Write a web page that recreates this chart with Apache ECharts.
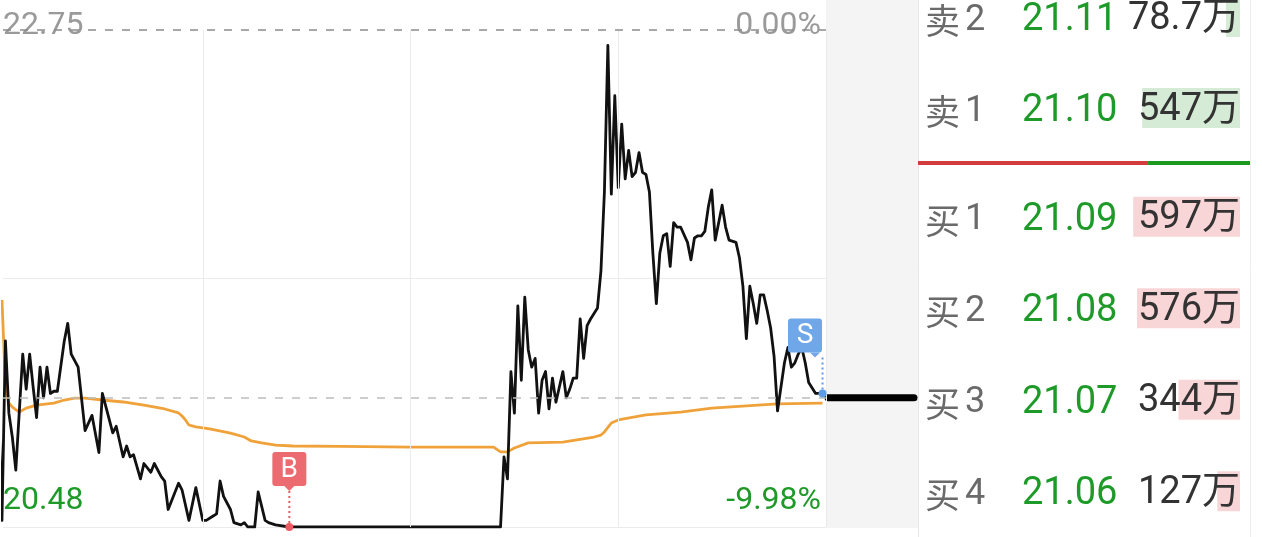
<!DOCTYPE html>
<html>
<head>
<meta charset="utf-8">
<style>
  html, body { margin: 0; padding: 0; background: #fff; }
  #chart { width: 1262px; height: 537px; }
</style>
<script src="https://cdn.jsdelivr.net/npm/echarts@6/dist/echarts.min.js"></script>
</head>
<body>
<div id="chart"></div>
<script>
// price levels
const prevClose = 22.75
const lowLimit = 20.48
const lastLine = 21.07

// the screenshot starts a little after 9:30, so the visible axis begins at minute 2.3
const firstMinute = 2.3
const lastMinute = 240
const sessionMarks = [60, 120, 180, 240]

// intraday minute line (minute index from 9:30, price)
const minutes = [1, 2, 3, 4, 5, 6, 8, 9, 10, 11, 12, 13, 14, 15, 16, 17, 18, 20, 21, 22, 24, 26, 28, 30, 31, 33, 34, 35, 37, 38, 39, 40, 42, 43, 45, 46, 48, 49, 50, 53, 54, 56, 58, 60, 61, 63, 64, 65, 66, 68, 69, 71, 72, 73, 75, 76, 78, 79, 81, 85, 146, 147, 148, 149, 150, 151, 152, 153, 154, 155, 156, 157, 158, 159, 160, 161, 162, 164, 165, 166, 167, 168, 169, 170, 171, 172, 174, 175, 176, 177, 178, 179, 180, 181, 182, 183, 184, 185, 186, 187, 188, 189, 190, 191, 192, 193, 194, 195, 196, 197, 198, 200, 201, 202, 203, 204, 205, 206, 207, 208, 210, 211, 212, 214, 215, 216, 217, 218, 219, 220, 221, 222, 223, 224, 225, 226, 228, 229, 230, 231, 232, 233, 234, 235, 237, 238, 239]
const prices = [21.05, 20.51, 21.33, 21.00, 20.89, 20.74, 21.27, 21.11, 21.27, 21.12, 20.98, 21.21, 21.07, 21.21, 21.09, 21.10, 21.10, 21.33, 21.41, 21.27, 21.21, 20.92, 20.99, 20.82, 21.09, 20.97, 20.91, 20.94, 20.80, 20.85, 20.80, 20.81, 20.70, 20.77, 20.73, 20.77, 20.71, 20.69, 20.56, 20.68, 20.65, 20.51, 20.66, 20.51, 20.51, 20.53, 20.54, 20.69, 20.62, 20.56, 20.50, 20.49, 20.50, 20.48, 20.48, 20.64, 20.51, 20.50, 20.49, 20.48, 20.48, 20.80, 20.70, 21.19, 21.00, 21.49, 21.15, 21.53, 21.29, 21.21, 21.25, 21.00, 21.15, 21.19, 21.02, 21.16, 21.05, 21.19, 21.07, 21.11, 21.16, 21.16, 21.43, 21.25, 21.40, 21.43, 21.48, 21.65, 22.01, 22.68, 22.00, 22.45, 22.03, 22.32, 22.07, 22.20, 22.08, 22.10, 22.19, 22.10, 22.09, 22.01, 21.73, 21.50, 21.73, 21.81, 21.82, 21.67, 21.87, 21.85, 21.85, 21.78, 21.70, 21.80, 21.81, 21.81, 21.83, 21.94, 22.02, 21.79, 21.95, 21.85, 21.79, 21.78, 21.71, 21.58, 21.34, 21.58, 21.50, 21.41, 21.54, 21.54, 21.47, 21.39, 21.26, 21.01, 21.23, 21.30, 21.21, 21.23, 21.27, 21.30, 21.23, 21.14, 21.09, 21.09, 21.09]

// average price line
const avgMinutes = [2, 3, 4, 5, 7, 9, 12, 17, 20, 23, 26, 31, 37, 43, 49, 53, 54, 55, 56, 58, 62, 68, 72, 74, 77, 81, 86, 100, 120, 144, 146, 148, 150, 154, 164, 173, 175, 176, 178, 180, 188, 198, 207, 217, 226, 239]
const avgPrices = [21.517, 21.129, 21.046, 21.028, 21.005, 21.023, 21.037, 21.046, 21.060, 21.069, 21.069, 21.060, 21.051, 21.037, 21.019, 21.001, 20.987, 20.969, 20.946, 20.937, 20.928, 20.909, 20.891, 20.873, 20.864, 20.854, 20.850, 20.848, 20.845, 20.845, 20.823, 20.823, 20.841, 20.864, 20.868, 20.891, 20.900, 20.914, 20.955, 20.969, 20.992, 21.005, 21.023, 21.033, 21.042, 21.046]

// buy / sell points
const tradeMinutes = [85, 239]
const tradePrices = [20.48, 21.09]
const tradeSides = ['B', 'S']

// order book
const sellNames = ['卖2', '卖1']
const sellPrices = [21.11, 21.10]
const sellVols = [78.7, 547]
const buyNames = ['买1', '买2', '买3', '买4']
const buyPrices = [21.09, 21.08, 21.07, 21.06]
const buyVols = [597, 576, 344, 127]
const bookShare = [69.3, 30.7]

const numFont = 'Roboto, "Noto Sans CJK SC", sans-serif'
const cjkFont = '"Noto Sans CJK SC", sans-serif'
const green = '#1e9a28'

const chart = echarts.init(document.getElementById('chart'))

function near(a, b) {
  return Math.abs(a - b) < 0.001
}

function bookAxis(gridIndex, names, pricesList, gap) {
  return {
    type: 'category',
    gridIndex: gridIndex,
    data: names,
    inverse: true,
    boundaryGap: gap,
    axisLine: { show: false },
    axisTick: { show: false },
    splitLine: { show: false },
    axisLabel: {
      inside: true,
      margin: 7,
      formatter: (v, i) => '{n|' + v.charAt(0) + '}{d|' + v.slice(1) + '}{p|' + pricesList[i].toFixed(2) + '}',
      rich: {
        n: { fontSize: 35, color: '#6a6a6a', width: 40, fontFamily: cjkFont, padding: [7, 0, 0, 0] },
        d: { fontSize: 36, color: '#6a6a6a', width: 57, fontFamily: numFont, padding: [7, 0, 0, 0] },
        p: { fontSize: 38, color: green, fontFamily: numFont, padding: [7, 0, 0, 0] }
      }
    }
  }
}

function bookBars(axisIndex, vols, color) {
  return {
    type: 'bar',
    xAxisIndex: axisIndex,
    yAxisIndex: axisIndex + 1,
    data: vols,
    barWidth: 40,
    silent: true,
    itemStyle: { color: color },
    label: {
      show: true,
      position: 'insideRight',
      distance: 0,
      offset: [0, 2],
      formatter: '{c}万',
      color: '#333',
      fontSize: 38,
      fontFamily: numFont
    }
  }
}

function renderTrade(params, api) {
  const pt = api.coord([api.value(0), api.value(1)])
  const cs = params.coordSys
  const side = tradeSides[params.dataIndex]
  const isBuy = side === 'B'
  const boxColor = isBuy ? '#ec6b71' : '#6fa7e8'
  const dotColor = isBuy ? '#ef5b65' : '#5d9ce4'
  const size = 34
  const boxBottom = pt[1] - 41
  const boxLeft = Math.min(pt[0] - size / 2, cs.x + cs.width - size - 4)
  const tipX = Math.min(Math.max(pt[0], boxLeft + 7), boxLeft + size - 7)
  return {
    type: 'group',
    children: [
      {
        type: 'line',
        shape: { x1: pt[0], y1: boxBottom + 5, x2: pt[0], y2: pt[1] },
        style: { stroke: dotColor, lineWidth: 2, lineDash: [2, 3] }
      },
      {
        type: 'rect',
        shape: { x: boxLeft, y: boxBottom - size, width: size, height: size, r: 3 },
        style: { fill: boxColor }
      },
      {
        type: 'polygon',
        shape: { points: [[tipX - 5, boxBottom], [tipX + 5, boxBottom], [tipX, boxBottom + 5]] },
        style: { fill: boxColor }
      },
      {
        type: 'circle',
        shape: { cx: pt[0], cy: pt[1], r: 4 },
        style: { fill: dotColor }
      },
      {
        type: 'text',
        x: boxLeft + size / 2,
        y: boxBottom - size / 2 + 1,
        style: { text: side, fill: '#fff', fontSize: 28, fontFamily: numFont, align: 'center', verticalAlign: 'middle' }
      }
    ]
  }
}

chart.setOption({
  animation: false,
  backgroundColor: '#fff',
  graphic: [
    { type: 'rect', z: 0, shape: { x: 826, y: 0, width: 92, height: 528 }, style: { fill: '#f4f4f4' } },
    { type: 'line', z: 0, shape: { x1: 918.5, y1: 0, x2: 918.5, y2: 537 }, style: { stroke: '#e6e6e6', lineWidth: 1 } },
    { type: 'line', z: 0, shape: { x1: 1250.5, y1: 0, x2: 1250.5, y2: 537 }, style: { stroke: '#ececec', lineWidth: 1 } }
  ],
  grid: [
    { left: 0, right: 436, top: 30, bottom: 10 },
    { left: 828, width: 86, top: 30, bottom: 10 },
    { left: 918, right: 22, top: 17, height: 91 },
    { left: 918, right: 22, top: 171, height: 368 },
    { left: 918, width: 332, top: 161, height: 4 }
  ],
  xAxis: [
    {
      type: 'value', gridIndex: 0, min: firstMinute, max: lastMinute,
      axisLine: { show: false }, axisTick: { show: false }, axisLabel: { show: false },
      splitLine: { show: false }
    },
    { type: 'value', gridIndex: 1, min: 0, max: 1, show: false },
    { type: 'value', gridIndex: 2, min: 0, max: 1800, inverse: true, show: false },
    { type: 'value', gridIndex: 3, min: 0, max: 1800, inverse: true, show: false },
    { type: 'value', gridIndex: 4, min: 0, max: 100, show: false }
  ],
  yAxis: [
    {
      type: 'value', gridIndex: 0, position: 'left', min: lowLimit, max: prevClose,
      interval: (prevClose - lowLimit) / 2,
      axisLine: { show: false }, axisTick: { show: false },
      splitLine: { show: true, showMaxLine: false, lineStyle: { color: '#ebebeb', width: 1 } },
      axisLabel: {
        inside: true,
        margin: 0,
        verticalAlignMinLabel: 'bottom',
        verticalAlignMaxLabel: 'middle',
        formatter: v => near(v, prevClose) ? '{hi|' + prevClose.toFixed(2) + '}' : near(v, lowLimit) ? '{lo|' + lowLimit.toFixed(2) + '}' : '',
        rich: {
          hi: { color: '#9a9a9a', fontSize: 32, fontFamily: numFont, padding: [0, 0, 8, 0] },
          lo: { color: green, fontSize: 32, fontFamily: numFont, padding: [0, 0, 10, 0] }
        }
      }
    },
    {
      type: 'value', gridIndex: 0, position: 'right', min: lowLimit, max: prevClose,
      interval: (prevClose - lowLimit) / 2,
      axisLine: { show: false }, axisTick: { show: false }, splitLine: { show: false },
      axisLabel: {
        inside: true,
        margin: 5,
        verticalAlignMinLabel: 'bottom',
        verticalAlignMaxLabel: 'middle',
        formatter: v => {
          const pct = ((v - prevClose) / prevClose * 100).toFixed(2) + '%'
          if (near(v, prevClose)) return '{hi|' + pct + '}'
          if (near(v, lowLimit)) return '{lo|' + pct + '}'
          return ''
        },
        rich: {
          hi: { color: '#9a9a9a', fontSize: 32, fontFamily: numFont, padding: [0, 0, 8, 0] },
          lo: { color: green, fontSize: 32, fontFamily: numFont, padding: [0, 0, 10, 0] }
        }
      }
    },
    { type: 'value', gridIndex: 1, min: lowLimit, max: prevClose, show: false },
    bookAxis(2, sellNames, sellPrices, false),
    bookAxis(3, buyNames, buyPrices, true),
    { type: 'category', gridIndex: 4, data: ['盘口'], show: false }
  ],
  series: [
    {
      name: '均价',
      type: 'line',
      xAxisIndex: 0,
      yAxisIndex: 0,
      data: avgMinutes.map((m, i) => [m, avgPrices[i]]),
      symbol: 'none',
      silent: true,
      z: 3,
      lineStyle: { color: '#f0a23a', width: 2.8 },
      markLine: {
        silent: true,
        symbol: 'none',
        label: { show: false },
        data: sessionMarks.map(m => ({ xAxis: m, lineStyle: { color: '#ebebeb', type: 'solid', width: 1 } }))
      }
    },
    {
      name: '价格',
      type: 'line',
      xAxisIndex: 0,
      yAxisIndex: 0,
      data: minutes.map((m, i) => [m, prices[i]]),
      symbol: 'none',
      silent: true,
      z: 4,
      lineStyle: { color: '#111', width: 2.8, join: 'round' },
      markLine: {
        silent: true,
        symbol: 'none',
        label: { show: false },
        data: [
          { yAxis: prevClose, lineStyle: { color: '#8c8c8c', type: [8, 9], width: 1.5 } },
          { yAxis: lastLine, lineStyle: { color: '#bdbdbd', type: [8, 9], width: 1.5 } }
        ]
      }
    },
    {
      name: '买卖点',
      type: 'custom',
      xAxisIndex: 0,
      yAxisIndex: 0,
      z: 10,
      silent: true,
      renderItem: renderTrade,
      data: tradeMinutes.map((m, i) => [m, tradePrices[i]])
    },
    {
      name: '现价',
      type: 'line',
      xAxisIndex: 1,
      yAxisIndex: 2,
      data: [[0, lastLine], [1, lastLine]],
      symbol: 'none',
      silent: true,
      lineStyle: { color: '#000', width: 7, cap: 'round' }
    },
    bookBars(2, sellVols, '#d5ebd5'),
    bookBars(3, buyVols, '#f8d6d7'),
    {
      type: 'bar', xAxisIndex: 4, yAxisIndex: 5, stack: 'share', barWidth: 4, silent: true,
      data: [bookShare[0]], itemStyle: { color: '#d23c3c' }
    },
    {
      type: 'bar', xAxisIndex: 4, yAxisIndex: 5, stack: 'share', barWidth: 4, silent: true,
      data: [bookShare[1]], itemStyle: { color: '#1d9a1d' }
    }
  ]
})
</script>
</body>
</html>
